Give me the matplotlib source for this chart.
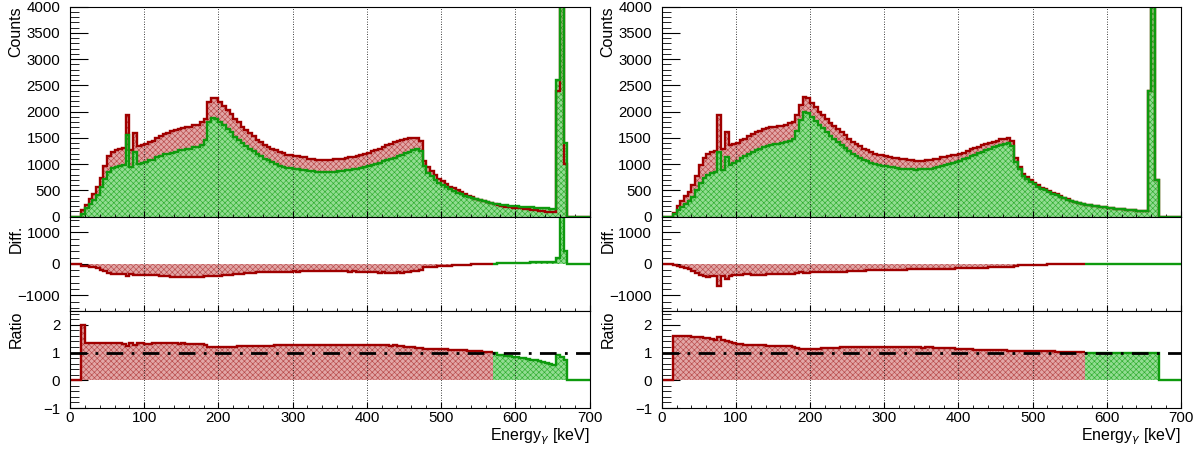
import numpy as np
import matplotlib.pyplot as plt
from matplotlib.ticker import MultipleLocator

plt.rcParams['font.family'] = ['Liberation Sans', 'DejaVu Sans']
plt.rcParams['font.size'] = 10.8
plt.rcParams['hatch.linewidth'] = 0.45

# 5 keV bins from 0 to 700 keV
edges = np.arange(0, 705, 5)
split_kev = 570

# left column spectra (counts per bin)
left_green = [
    0, 0, 0, 60, 160, 250, 320, 420, 560, 720,
    860, 920, 950, 975, 985, 1550, 950, 1240, 1000, 1030,
    1050, 1080, 1085, 1130, 1155, 1185, 1195, 1220, 1235, 1270,
    1265, 1290, 1295, 1325, 1335, 1375, 1460, 1800, 1875, 1860,
    1800, 1745, 1675, 1605, 1525, 1465, 1405, 1355, 1295, 1255,
    1195, 1155, 1105, 1075, 1035, 1005, 965, 955, 930, 928,
    912, 908, 892, 888, 872, 868, 858, 857, 853, 852,
    857, 858, 867, 868, 882, 888, 903, 912, 933, 942,
    962, 978, 1003, 1022, 1053, 1077, 1108, 1127, 1163, 1182,
    1213, 1232, 1263, 1282, 1250, 960, 840, 770, 705, 645,
    600, 560, 520, 490, 460, 430, 400, 375, 350, 330,
    310, 292, 276, 262, 250, 240, 230, 221, 213, 206,
    199, 193, 187, 181, 176, 171, 166, 161, 157, 153,
    149, 2600, 12000, 1400, 0, 0, 0, 0, 0, 0,
]
left_red = [
    0, 0, 0, 120, 215, 335, 430, 560, 745, 960,
    1150, 1230, 1262, 1295, 1305, 1930, 1275, 1590, 1345, 1375,
    1390, 1430, 1445, 1500, 1535, 1580, 1595, 1625, 1645, 1680,
    1685, 1705, 1715, 1745, 1755, 1795, 1860, 2190, 2265, 2260,
    2180, 2115, 2025, 1955, 1855, 1795, 1715, 1655, 1585, 1535,
    1465, 1425, 1365, 1335, 1295, 1265, 1225, 1205, 1180, 1175,
    1155, 1152, 1132, 1128, 1105, 1103, 1087, 1088, 1077, 1083,
    1082, 1093, 1092, 1108, 1112, 1133, 1137, 1163, 1177, 1198,
    1212, 1243, 1262, 1298, 1322, 1363, 1387, 1418, 1437, 1463,
    1472, 1493, 1497, 1508, 1450, 1070, 950, 870, 795, 725,
    675, 625, 575, 540, 505, 470, 435, 400, 370, 345,
    322, 300, 280, 263, 244, 222, 206, 192, 183, 174,
    167, 158, 150, 141, 132, 123, 113, 105, 97, 90,
    83, 2400, 10000, 1000, 0, 0, 0, 0, 0, 0,
]

# right column spectra (counts per bin)
right_green = [
    0, 0, 0, 50, 130, 180, 240, 300, 380, 500,
    640, 730, 790, 832, 858, 1240, 890, 1140, 980, 1030,
    1070, 1112, 1148, 1197, 1233, 1267, 1293, 1327, 1348, 1367,
    1378, 1392, 1398, 1417, 1448, 1487, 1640, 1850, 2000, 1980,
    1890, 1822, 1748, 1682, 1608, 1542, 1478, 1422, 1358, 1302,
    1248, 1202, 1158, 1122, 1078, 1052, 1018, 1002, 983, 972,
    958, 952, 938, 932, 918, 912, 903, 902, 898, 902,
    903, 912, 918, 932, 943, 962, 978, 1002, 1018, 1042,
    1058, 1092, 1118, 1152, 1178, 1212, 1238, 1272, 1298, 1322,
    1338, 1362, 1378, 1402, 1350, 1050, 900, 780, 720, 660,
    620, 570, 530, 500, 470, 440, 410, 380, 350, 325,
    300, 280, 260, 245, 232, 220, 208, 198, 188, 180,
    172, 164, 156, 148, 141, 134, 127, 120, 114, 108,
    102, 2400, 11000, 700, 0, 0, 0, 0, 0, 0,
]
right_red = [
    0, 0, 0, 80, 210, 290, 385, 475, 595, 780,
    990, 1120, 1195, 1232, 1253, 1930, 1282, 1610, 1360, 1385,
    1410, 1452, 1478, 1533, 1572, 1608, 1632, 1668, 1683, 1703,
    1708, 1723, 1733, 1752, 1778, 1807, 1940, 2120, 2285, 2260,
    2160, 2082, 1998, 1932, 1858, 1792, 1728, 1672, 1608, 1552,
    1488, 1432, 1378, 1342, 1298, 1262, 1228, 1202, 1178, 1167,
    1153, 1142, 1123, 1112, 1098, 1092, 1078, 1080, 1068, 1070,
    1068, 1080, 1086, 1100, 1108, 1130, 1143, 1160, 1168, 1184,
    1190, 1222, 1248, 1282, 1300, 1332, 1358, 1392, 1408, 1432,
    1448, 1472, 1488, 1502, 1440, 1110, 950, 820, 760, 698,
    650, 598, 555, 522, 490, 458, 425, 393, 362, 334,
    307, 285, 263, 247, 232, 220, 208, 198, 188, 180,
    172, 164, 156, 148, 141, 134, 127, 120, 114, 108,
    102, 2400, 11000, 700, 0, 0, 0, 0, 0, 0,
]

RED_LINE, RED_FILL, RED_HATCH = '#a00000', '#e2a6a6', '#b84a4a'
GRN_LINE, GRN_FILL, GRN_HATCH = '#0e9a0e', '#92dc92', '#2fae2f'

W, H = 1199, 454


def fill(ax, vals, e, face, hatch, z):
    ax.stairs(vals, e, baseline=0, fill=True, facecolor=face,
              edgecolor=hatch, hatch='xxxxxx', lw=0, zorder=z)


def line(ax, vals, e, color, z):
    ax.stairs(vals, e, baseline=None, color=color, lw=1.7, zorder=z)


def style(ax, ylim, major, minor, xlabels):
    ax.set_xlim(0, 700)
    ax.set_ylim(*ylim)
    ax.xaxis.set_major_locator(MultipleLocator(100))
    ax.xaxis.set_minor_locator(MultipleLocator(20))
    ax.yaxis.set_major_locator(MultipleLocator(major))
    ax.yaxis.set_minor_locator(MultipleLocator(minor))
    ax.tick_params(which='both', direction='in', top=False, right=False)
    ax.tick_params(axis='y', which='major', length=13, pad=7)
    ax.tick_params(axis='y', which='minor', length=6.5)
    ax.tick_params(axis='x', which='major', length=4.5, pad=2.5)
    ax.tick_params(axis='x', which='minor', length=2.2)
    ax.grid(axis='x', which='major', color='k', lw=0.6, linestyle=(0, (1, 2)))
    if not xlabels:
        ax.tick_params(axis='x', labelbottom=False)


def column(x0, x1, red, green):
    red = np.array(red, dtype=float)
    green = np.array(green, dtype=float)
    diff = green - red
    ratio = np.divide(red, green, out=np.zeros_like(red), where=green > 0)
    k = split_kev // 5

    xf, wf = x0 / W, (x1 - x0) / W
    ax1 = fig.add_axes([xf, 1 - 216.7 / H, wf, 210 / H])
    ax2 = fig.add_axes([xf, 1 - 311 / H, wf, 94.3 / H])
    ax3 = fig.add_axes([xf, 1 - 408 / H, wf, 97 / H])

    # spectra
    fill(ax1, red, edges, RED_FILL, RED_HATCH, 1)
    fill(ax1, green, edges, GRN_FILL, GRN_HATCH, 1.1)
    line(ax1, red, edges, RED_LINE, 2)
    line(ax1, green, edges, GRN_LINE, 2.1)
    style(ax1, (0, 4000), 500, 100, False)

    # difference and ratio, red below the split energy, green above
    for ax, vals in ((ax2, diff), (ax3, ratio)):
        fill(ax, vals[:k], edges[:k + 1], RED_FILL, RED_HATCH, 1)
        fill(ax, vals[k:], edges[k:], GRN_FILL, GRN_HATCH, 1)
        line(ax, vals[:k], edges[:k + 1], RED_LINE, 2)
        line(ax, vals[k:], edges[k:], GRN_LINE, 2)
    style(ax2, (-1500, 1500), 1000, 200, False)
    style(ax3, (-1, 2.5), 1, 0.2, True)
    ax3.axhline(1, color='k', lw=2, dashes=(6, 3, 1, 3), zorder=3)

    tx = (x0 - 54) / W
    fig.text(tx, 1 - 6 / H, 'Counts', rotation=90, ha='center', va='top', fontsize=11.5)
    fig.text(tx, 1 - 225 / H, 'Diff.', rotation=90, ha='center', va='top', fontsize=11.5)
    fig.text(tx, 1 - 311 / H, 'Ratio', rotation=90, ha='center', va='top', fontsize=11.5)
    fig.text(x1 / W, 1 - 437 / H, r'Energy$_{\gamma}$ [keV]', ha='right', va='center',
             fontsize=11.5)


fig = plt.figure(figsize=(W / 100, H / 100), dpi=100)
column(70, 589.5, left_red, left_green)
column(661.8, 1181, right_red, right_green)
fig.savefig('out.png', dpi=100)
